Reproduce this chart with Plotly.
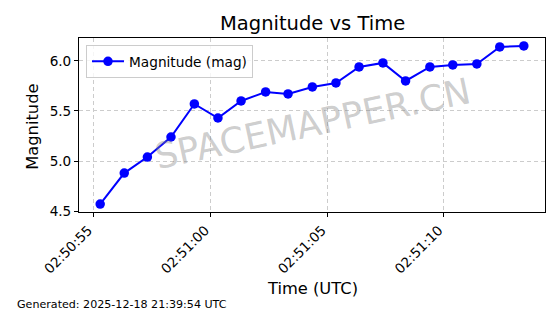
import plotly.graph_objects as go
import pandas as pd

# Data
times = [
    "2025-12-18 02:50:55.29", "2025-12-18 02:50:56.32", "2025-12-18 02:50:57.31",
    "2025-12-18 02:50:58.32", "2025-12-18 02:50:59.32", "2025-12-18 02:51:00.33",
    "2025-12-18 02:51:01.32", "2025-12-18 02:51:02.37", "2025-12-18 02:51:03.33",
    "2025-12-18 02:51:04.37", "2025-12-18 02:51:05.38", "2025-12-18 02:51:06.37",
    "2025-12-18 02:51:07.39", "2025-12-18 02:51:08.36", "2025-12-18 02:51:09.40",
    "2025-12-18 02:51:10.38", "2025-12-18 02:51:11.41", "2025-12-18 02:51:12.39",
    "2025-12-18 02:51:13.42",
]
magnitudes = [4.57, 4.88, 5.04, 5.24, 5.57, 5.43, 5.60, 5.69, 5.67, 5.74,
              5.78, 5.94, 5.98, 5.80, 5.94, 5.96, 5.97, 6.14, 6.15]
x_tick_vals = ["2025-12-18 02:50:55", "2025-12-18 02:51:00",
               "2025-12-18 02:51:05", "2025-12-18 02:51:10"]
x_tick_text = ["02:50:55", "02:51:00", "02:51:05", "02:51:10"]
y_tick_vals = [4.5, 5.0, 5.5, 6.0]

title_text = "Magnitude vs Time"
x_label = "Time (UTC)"
y_label = "Magnitude"
series_name = "Magnitude (mag)"
footer_text = "Generated: 2025-12-18 21:39:54 UTC"
watermark_text = "SPACEMAPPER.CN"

# matplotlib-like 5% margins
t = pd.to_datetime(pd.Series(times))
span = t.max() - t.min()
x_range = [t.min() - 0.05 * span, t.max() + 0.05 * span]
ymin, ymax = min(magnitudes), max(magnitudes)
yspan = ymax - ymin
y_range = [ymin - 0.05 * yspan, ymax + 0.05 * yspan]

FONT = "DejaVu Sans"
TICK = 13.6

fig = go.Figure()
fig.add_trace(go.Scatter(
    x=times, y=magnitudes, mode="lines+markers", name=series_name,
    line=dict(color="#0000ff", width=2),
    marker=dict(color="#0000ff", size=9.5),
))

fig.update_layout(
    width=560, height=314,
    margin=dict(l=79, r=15, t=38, b=102),
    paper_bgcolor="white", plot_bgcolor="white",
    font=dict(family=FONT, color="black", size=TICK),
    showlegend=True,
    legend=dict(
        x=0.015, y=0.96, xanchor="left", yanchor="top",
        bgcolor="rgba(255,255,255,0.8)", bordercolor="#cccccc", borderwidth=1,
        font=dict(family=FONT, size=13.7),
        itemwidth=32,
    ),
)

fig.update_xaxes(
    type="date", range=[x_range[0], x_range[1]],
    tickvals=x_tick_vals, ticktext=x_tick_text, tickangle=-45,
    ticks="outside", ticklen=4, tickcolor="black", tickwidth=1,
    ticklabelshift=-5,
    showline=True, linecolor="black", linewidth=1, mirror=True,
    showgrid=True, gridcolor="#cccccc", gridwidth=0.8, griddash="4px,3px",
    zeroline=False, tickfont=dict(size=TICK),
)
fig.update_yaxes(
    range=y_range, tickvals=y_tick_vals, tickformat=".1f",
    ticks="outside", ticklen=4, tickcolor="black", tickwidth=1,
    showline=True, linecolor="black", linewidth=1, mirror=True,
    showgrid=True, gridcolor="#cccccc", gridwidth=0.8, griddash="4px,3px",
    zeroline=False, tickfont=dict(size=TICK),
)

annotations = [
    dict(text=title_text, xref="paper", yref="paper", x=0.5, y=1.086,
         xanchor="center", yanchor="middle", showarrow=False,
         font=dict(family=FONT, size=19.5, color="black")),
    dict(text=x_label, xref="paper", yref="paper", x=0.5, y=-0.4425,
         xanchor="center", yanchor="middle", showarrow=False,
         font=dict(family=FONT, size=16.3, color="black")),
    dict(text=y_label, xref="paper", yref="paper", x=-0.0987, y=0.49,
         xanchor="center", yanchor="middle", showarrow=False, textangle=-90,
         font=dict(family=FONT, size=16.3, color="black")),
    dict(text=footer_text, xref="paper", yref="paper", x=-0.137, y=-0.534,
         xanchor="left", yanchor="middle", showarrow=False,
         font=dict(family=FONT, size=11.1, color="black")),
    dict(text=watermark_text, xref="paper", yref="paper", x=0.502, y=0.506,
         xanchor="center", yanchor="middle", showarrow=False, textangle=-12,
         font=dict(family=FONT, size=35.8, color="rgba(128,128,128,0.4)")),
]
fig.update_layout(annotations=annotations)

fig.write_html("out.html")
